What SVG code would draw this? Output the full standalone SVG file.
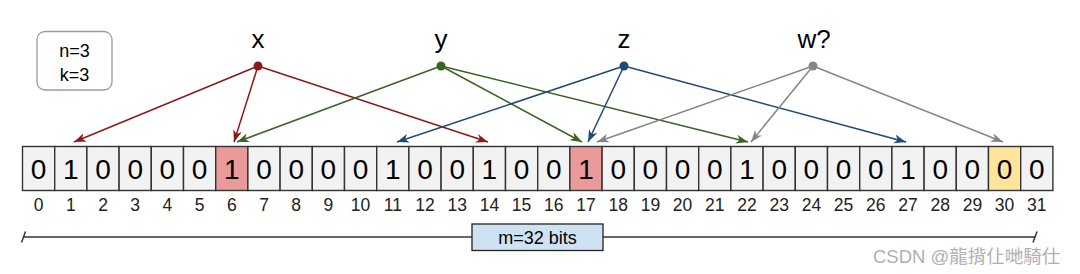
<svg xmlns="http://www.w3.org/2000/svg" width="1080" height="274" viewBox="0 0 1080 274">
<style>
text{font-family:"Liberation Sans",Arial,sans-serif;fill:#000}
.cell{fill:#f2f2f2;stroke:#333;stroke-width:1.4}
.hit{fill:#ea9a99}
.q{fill:#ffe599}
.bit{font-size:28px;text-anchor:middle}
.idx{font-size:17.5px;text-anchor:middle;fill:#222}
.key{font-size:26px;text-anchor:middle}
.c{fill:none;stroke-width:1.5}
.r{stroke:#8a1a1a}.g{stroke:#3a6426}.b{stroke:#1d4a78}.k{stroke:#858585}
</style>
<defs>
<marker id="ar" markerUnits="userSpaceOnUse" markerWidth="14" markerHeight="10" refX="12" refY="5" orient="auto"><path d="M0,0.5 L12,5 L0,9.5 L3.5,5 Z" fill="#8a1a1a"/></marker>
<marker id="ag" markerUnits="userSpaceOnUse" markerWidth="14" markerHeight="10" refX="12" refY="5" orient="auto"><path d="M0,0.5 L12,5 L0,9.5 L3.5,5 Z" fill="#3a6426"/></marker>
<marker id="ab" markerUnits="userSpaceOnUse" markerWidth="14" markerHeight="10" refX="12" refY="5" orient="auto"><path d="M0,0.5 L12,5 L0,9.5 L3.5,5 Z" fill="#1d4a78"/></marker>
<marker id="ak" markerUnits="userSpaceOnUse" markerWidth="14" markerHeight="10" refX="12" refY="5" orient="auto"><path d="M0,0.5 L12,5 L0,9.5 L3.5,5 Z" fill="#858585"/></marker>
</defs>
<rect width="1080" height="274" fill="#fff"/>

<g id="legend">
<rect x="37" y="31.5" width="75" height="58.5" rx="8" fill="#fff" stroke="#9a9a9a" stroke-width="1.3"/>
<text x="74.5" y="57" font-size="18" text-anchor="middle">n=3</text>
<text x="74.5" y="81" font-size="18" text-anchor="middle">k=3</text>
</g>

<g id="connectors">
<path class="c r" d="M258,66 L74,142" marker-end="url(#ar)"/>
<path class="c r" d="M258,66 L234,142" marker-end="url(#ar)"/>
<path class="c r" d="M258,66 L488,142" marker-end="url(#ar)"/>
<path class="c g" d="M441,66 L237,142" marker-end="url(#ag)"/>
<path class="c g" d="M441,66 L582,142" marker-end="url(#ag)"/>
<path class="c g" d="M441,66 L748,142" marker-end="url(#ag)"/>
<path class="c b" d="M624,66 L397,142" marker-end="url(#ab)"/>
<path class="c b" d="M624,66 L588,142" marker-end="url(#ab)"/>
<path class="c b" d="M624,66 L906,142" marker-end="url(#ab)"/>
<path class="c k" d="M813,66 L597,142" marker-end="url(#ak)"/>
<path class="c k" d="M813,66 L751,142" marker-end="url(#ak)"/>
<path class="c k" d="M813,66 L1003,142" marker-end="url(#ak)"/>
</g>

<g id="key-x"><text class="key" x="258" y="48">x</text><circle cx="258" cy="66" r="4.5" fill="#8a1a1a"/></g>
<g id="key-y"><text class="key" x="441" y="48">y</text><circle cx="441" cy="66" r="4.5" fill="#3a6426"/></g>
<g id="key-z"><text class="key" x="624" y="48">z</text><circle cx="624" cy="66" r="4.5" fill="#1d4a78"/></g>
<g id="key-w"><text class="key" x="814" y="48">w?</text><circle cx="813" cy="66" r="4.5" fill="#858585"/></g>

<g id="bits">
<g id="bit0"><rect class="cell" x="22.5" y="146.5" width="32.2" height="44"/><text class="bit" x="38.6" y="178.5">0</text><text class="idx" x="38.6" y="211">0</text></g>
<g id="bit1"><rect class="cell" x="54.7" y="146.5" width="32.2" height="44"/><text class="bit" x="70.8" y="178.5">1</text><text class="idx" x="70.8" y="211">1</text></g>
<g id="bit2"><rect class="cell" x="86.9" y="146.5" width="32.2" height="44"/><text class="bit" x="103" y="178.5">0</text><text class="idx" x="103" y="211">2</text></g>
<g id="bit3"><rect class="cell" x="119.1" y="146.5" width="32.2" height="44"/><text class="bit" x="135.2" y="178.5">0</text><text class="idx" x="135.2" y="211">3</text></g>
<g id="bit4"><rect class="cell" x="151.3" y="146.5" width="32.2" height="44"/><text class="bit" x="167.4" y="178.5">0</text><text class="idx" x="167.4" y="211">4</text></g>
<g id="bit5"><rect class="cell" x="183.5" y="146.5" width="32.2" height="44"/><text class="bit" x="199.6" y="178.5">0</text><text class="idx" x="199.6" y="211">5</text></g>
<g id="bit6"><rect class="cell hit" x="215.7" y="146.5" width="32.2" height="44"/><text class="bit" x="231.8" y="178.5">1</text><text class="idx" x="231.8" y="211">6</text></g>
<g id="bit7"><rect class="cell" x="247.9" y="146.5" width="32.2" height="44"/><text class="bit" x="264" y="178.5">0</text><text class="idx" x="264" y="211">7</text></g>
<g id="bit8"><rect class="cell" x="280.1" y="146.5" width="32.2" height="44"/><text class="bit" x="296.2" y="178.5">0</text><text class="idx" x="296.2" y="211">8</text></g>
<g id="bit9"><rect class="cell" x="312.3" y="146.5" width="32.2" height="44"/><text class="bit" x="328.4" y="178.5">0</text><text class="idx" x="328.4" y="211">9</text></g>
<g id="bit10"><rect class="cell" x="344.5" y="146.5" width="32.2" height="44"/><text class="bit" x="360.6" y="178.5">0</text><text class="idx" x="360.6" y="211">10</text></g>
<g id="bit11"><rect class="cell" x="376.7" y="146.5" width="32.2" height="44"/><text class="bit" x="392.8" y="178.5">1</text><text class="idx" x="392.8" y="211">11</text></g>
<g id="bit12"><rect class="cell" x="408.9" y="146.5" width="32.2" height="44"/><text class="bit" x="425" y="178.5">0</text><text class="idx" x="425" y="211">12</text></g>
<g id="bit13"><rect class="cell" x="441.1" y="146.5" width="32.2" height="44"/><text class="bit" x="457.2" y="178.5">0</text><text class="idx" x="457.2" y="211">13</text></g>
<g id="bit14"><rect class="cell" x="473.3" y="146.5" width="32.2" height="44"/><text class="bit" x="489.4" y="178.5">1</text><text class="idx" x="489.4" y="211">14</text></g>
<g id="bit15"><rect class="cell" x="505.5" y="146.5" width="32.2" height="44"/><text class="bit" x="521.6" y="178.5">0</text><text class="idx" x="521.6" y="211">15</text></g>
<g id="bit16"><rect class="cell" x="537.7" y="146.5" width="32.2" height="44"/><text class="bit" x="553.8" y="178.5">0</text><text class="idx" x="553.8" y="211">16</text></g>
<g id="bit17"><rect class="cell hit" x="569.9" y="146.5" width="32.2" height="44"/><text class="bit" x="586" y="178.5">1</text><text class="idx" x="586" y="211">17</text></g>
<g id="bit18"><rect class="cell" x="602.1" y="146.5" width="32.2" height="44"/><text class="bit" x="618.2" y="178.5">0</text><text class="idx" x="618.2" y="211">18</text></g>
<g id="bit19"><rect class="cell" x="634.3" y="146.5" width="32.2" height="44"/><text class="bit" x="650.4" y="178.5">0</text><text class="idx" x="650.4" y="211">19</text></g>
<g id="bit20"><rect class="cell" x="666.5" y="146.5" width="32.2" height="44"/><text class="bit" x="682.6" y="178.5">0</text><text class="idx" x="682.6" y="211">20</text></g>
<g id="bit21"><rect class="cell" x="698.7" y="146.5" width="32.2" height="44"/><text class="bit" x="714.8" y="178.5">0</text><text class="idx" x="714.8" y="211">21</text></g>
<g id="bit22"><rect class="cell" x="730.9" y="146.5" width="32.2" height="44"/><text class="bit" x="747" y="178.5">1</text><text class="idx" x="747" y="211">22</text></g>
<g id="bit23"><rect class="cell" x="763.1" y="146.5" width="32.2" height="44"/><text class="bit" x="779.2" y="178.5">0</text><text class="idx" x="779.2" y="211">23</text></g>
<g id="bit24"><rect class="cell" x="795.3" y="146.5" width="32.2" height="44"/><text class="bit" x="811.4" y="178.5">0</text><text class="idx" x="811.4" y="211">24</text></g>
<g id="bit25"><rect class="cell" x="827.5" y="146.5" width="32.2" height="44"/><text class="bit" x="843.6" y="178.5">0</text><text class="idx" x="843.6" y="211">25</text></g>
<g id="bit26"><rect class="cell" x="859.7" y="146.5" width="32.2" height="44"/><text class="bit" x="875.8" y="178.5">0</text><text class="idx" x="875.8" y="211">26</text></g>
<g id="bit27"><rect class="cell" x="891.9" y="146.5" width="32.2" height="44"/><text class="bit" x="908" y="178.5">1</text><text class="idx" x="908" y="211">27</text></g>
<g id="bit28"><rect class="cell" x="924.1" y="146.5" width="32.2" height="44"/><text class="bit" x="940.2" y="178.5">0</text><text class="idx" x="940.2" y="211">28</text></g>
<g id="bit29"><rect class="cell" x="956.3" y="146.5" width="32.2" height="44"/><text class="bit" x="972.4" y="178.5">0</text><text class="idx" x="972.4" y="211">29</text></g>
<g id="bit30"><rect class="cell q" x="988.5" y="146.5" width="32.2" height="44"/><text class="bit" x="1004.6" y="178.5">0</text><text class="idx" x="1004.6" y="211">30</text></g>
<g id="bit31"><rect class="cell" x="1020.7" y="146.5" width="32.2" height="44"/><text class="bit" x="1036.8" y="178.5">0</text><text class="idx" x="1036.8" y="211">31</text></g>
</g>

<g id="size-scale">
<line x1="23" y1="237" x2="1035" y2="237" stroke="#333" stroke-width="1.3"/>
<line x1="21.5" y1="242.5" x2="25.5" y2="231.5" stroke="#333" stroke-width="1.5"/>
<line x1="1033" y1="242.5" x2="1037" y2="231.5" stroke="#333" stroke-width="1.5"/>
<rect x="472" y="224" width="131" height="26.5" fill="#cfe2f3" stroke="#222" stroke-width="1.3"/>
<text x="537.5" y="243.5" font-size="18" text-anchor="middle">m=32 bits</text>
</g>

<text x="873" y="263" font-size="18.5" style="font-family:'Liberation Sans','Noto Sans CJK TC',sans-serif;fill:#b0b0b0">CSDN @龍揹仩哋騎仕</text>
</svg>
